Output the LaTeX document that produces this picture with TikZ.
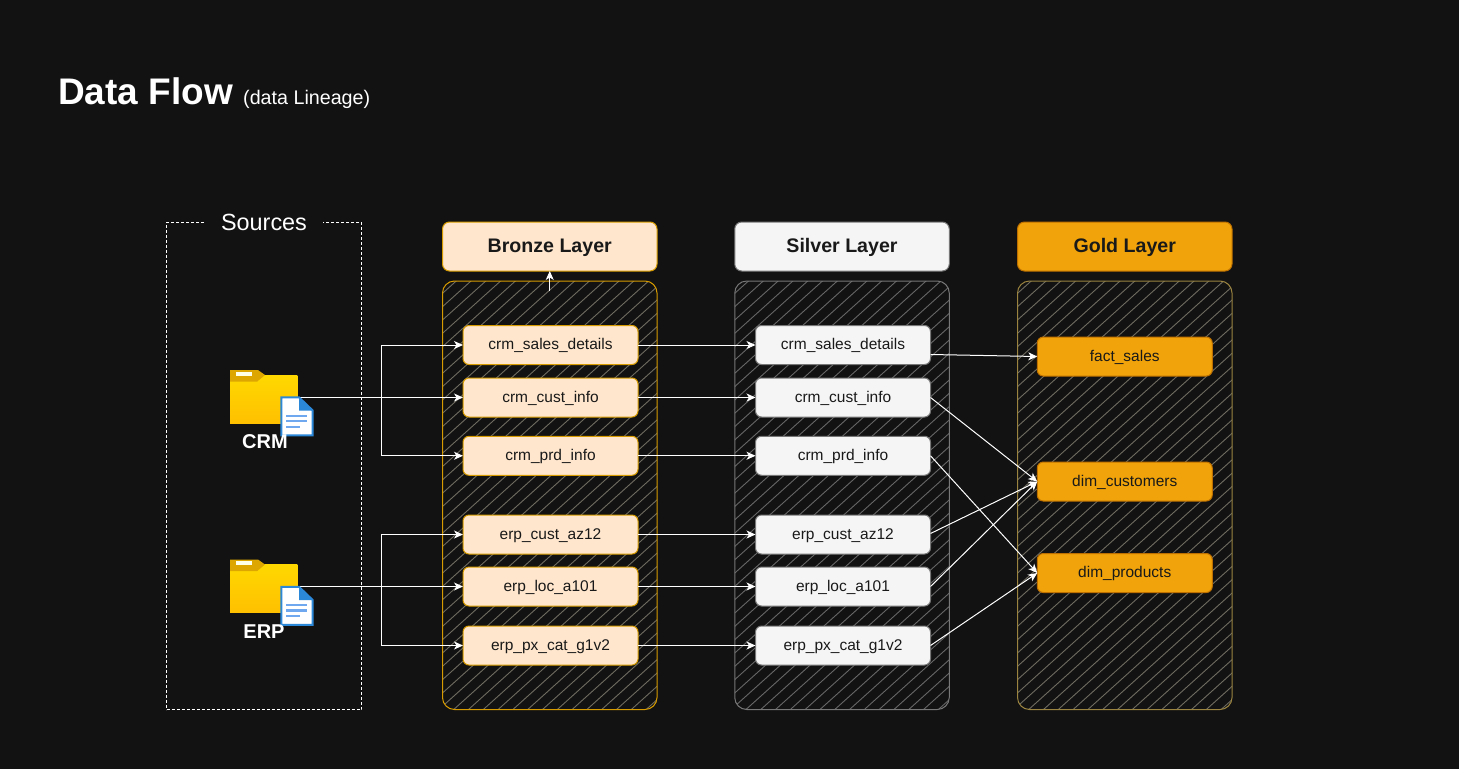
\documentclass[tikz,border=0pt]{standalone}
\usepackage{fontspec}
\setmainfont{Liberation Sans}
\usetikzlibrary{arrows.meta,calc}

\definecolor{pagebg}{HTML}{121212}
\definecolor{bronzefill}{HTML}{FFE6CC}
\definecolor{bronzeline}{HTML}{D79B00}
\definecolor{silverfill}{HTML}{F5F5F5}
\definecolor{silverline}{HTML}{777777}
\definecolor{goldfill}{HTML}{F0A30A}
\definecolor{goldline}{HTML}{BD7000}
\definecolor{goldpanel}{HTML}{9A8440}
\definecolor{hatchgrey}{HTML}{6E6B60}
\definecolor{hatchsilver}{HTML}{666666}
\definecolor{docblue}{HTML}{2B87D8}
\definecolor{docline}{HTML}{6FA8EE}
\definecolor{foldertop}{HTML}{FFD800}
\definecolor{folderlow}{HTML}{FFC000}
\definecolor{foldertab}{HTML}{DDA600}

\tikzset{
    layerhead/.style={draw=#1, line width=1pt, rounded corners=7pt, minimum width=214.5pt,
        minimum height=49pt, inner sep=0pt, outer sep=0pt, text=black!90, text height=16pt, text depth=4pt,
        font=\fontsize{19.6}{22}\selectfont\bfseries},
    tablebox/.style={draw=#1, line width=1pt, rounded corners=6pt, minimum width=175pt,
        minimum height=39pt, inner sep=0pt, outer sep=0pt, text=black!90, text height=13pt, text depth=4pt,
        font=\fontsize{15.5}{17}\selectfont},
    hatchpanel/.style 2 args={draw=#1, line width=1pt, rounded corners=12pt, minimum width=214.5pt,
        minimum height=428.5pt, inner sep=0pt, outer sep=0pt,
        path picture={
            \foreach \i in {-492,-477.2,...,230}
                \draw[#2, line width=0.9pt] ([xshift=\i pt]path picture bounding box.south west) -- ++(500,-450);
        }},
    flow/.style={draw=white, line width=1pt, -{Stealth[length=9pt,width=8pt,inset=2.5pt]}},
    srcfolder/.pic={
        \fill[top color=foldertop, bottom color=folderlow] (0,5) -- (67.3,5) -- (67.3,53.3) -- (0,53.3) -- cycle;
        \fill[foldertab] (0,0) -- (28,0) -- (35,5) -- (27,11.7) -- (0,11.7) -- cycle;
        \fill[white!90!yellow] (6,1.7) rectangle (21.7,5.7);
        \node[minimum width=67.3pt, minimum height=53.3pt, inner sep=0pt, outer sep=0pt, anchor=north west] (-box) at (0,0) {};
    },
    srcdoc/.pic={
        \fill[white] (51.3,27.3) -- (69,27.3) -- (82.7,40.5) -- (82.7,65.3) -- (51.3,65.3) -- cycle;
        \fill[docblue] (69,27.3) -- (82.7,40.5) -- (69,40.5) -- cycle;
        \draw[docblue, line width=2pt] (51.3,27.3) -- (69,27.3) -- (82.7,40.5) -- (82.7,65.3) -- (51.3,65.3) -- cycle;
        \draw[docline, line width=2.4pt] (56,45.7) -- (77.3,45.7) (56,51) -- (77.3,51) (56,56.7) -- (69.7,56.7);
    },
}

\begin{document}
\begin{tikzpicture}[x=1pt, y=-1pt]
    \useasboundingbox[fill=pagebg] (0,0) rectangle (1459,769);

    % Title
    \node[anchor=base west, inner sep=0pt, text=white, font=\fontsize{37}{40}\selectfont\bfseries] (title) at (58,104) {Data Flow};
    \node[anchor=base west, inner sep=0pt, text=white, font=\fontsize{19.7}{24}\selectfont] (subtitle) at (243,104.5) {(data Lineage)};

    % Sources frame
    \node[draw=white, dash pattern=on 3pt off 2pt, line width=1pt, minimum width=195pt, minimum height=487.5pt, inner sep=0pt, outer sep=0pt] (sources) at (264,465.75) {};
    \node[fill=pagebg, text=white, minimum width=118pt, inner sep=2pt, font=\fontsize{23.4}{26}\selectfont] (sourcestitle) at (264,222) {Sources};

    % Layer panels
    \node[hatchpanel={bronzeline}{hatchgrey}] (bronzepanel) at (549.75,495.25) {};
    \node[hatchpanel={silverline}{hatchsilver}] (silverpanel) at (842,495.25) {};
    \node[hatchpanel={goldpanel}{hatchgrey}] (goldpanel) at (1124.75,495.25) {};

    % Layer headers
    \node[layerhead=bronzeline, fill=bronzefill] (bronzehead) at (549.75,246.5) {Bronze Layer};
    \node[layerhead=silverline, fill=silverfill] (silverhead) at (842,246.5) {Silver Layer};
    \node[layerhead=goldline, fill=goldfill] (goldhead) at (1124.75,246.5) {Gold Layer};

    % Source folders
    \pic (crm) at (230,370) {srcfolder};
    \pic (erp) at (230,559.5) {srcfolder};

    % Bronze tables
    \node[tablebox=bronzeline, fill=bronzefill] (B1) at (550.5,345) {crm\_sales\_details};
    \node[tablebox=bronzeline, fill=bronzefill] (B2) at (550.5,397.5) {crm\_cust\_info};
    \node[tablebox=bronzeline, fill=bronzefill] (B3) at (550.5,455.75) {crm\_prd\_info};
    \node[tablebox=bronzeline, fill=bronzefill] (B4) at (550.5,534.5) {erp\_cust\_az12};
    \node[tablebox=bronzeline, fill=bronzefill] (B5) at (550.5,586.5) {erp\_loc\_a101};
    \node[tablebox=bronzeline, fill=bronzefill] (B6) at (550.5,645.5) {erp\_px\_cat\_g1v2};

    % Silver tables
    \node[tablebox=silverline, fill=silverfill] (S1) at (843,345) {crm\_sales\_details};
    \node[tablebox=silverline, fill=silverfill] (S2) at (843,397.5) {crm\_cust\_info};
    \node[tablebox=silverline, fill=silverfill] (S3) at (843,455.75) {crm\_prd\_info};
    \node[tablebox=silverline, fill=silverfill] (S4) at (843,534.5) {erp\_cust\_az12};
    \node[tablebox=silverline, fill=silverfill] (S5) at (843,586.5) {erp\_loc\_a101};
    \node[tablebox=silverline, fill=silverfill] (S6) at (843,645.5) {erp\_px\_cat\_g1v2};

    % Gold tables
    \node[tablebox=goldline, fill=goldfill] (G1) at (1124.75,356.5) {fact\_sales};
    \node[tablebox=goldline, fill=goldfill] (G2) at (1124.75,481.5) {dim\_customers};
    \node[tablebox=goldline, fill=goldfill] (G3) at (1124.75,573) {dim\_products};

    % Source connectors
    \draw[flow] (crm-box.east) |- (B2.west);
    \draw[flow] (B2.west -| 381,0) |- (B1.west);
    \draw[flow] (B2.west -| 381,0) |- (B3.west);
    \draw[flow] (erp-box.east) |- (B5.west);
    \draw[flow] (B5.west -| 381,0) |- (B4.west);
    \draw[flow] (B5.west -| 381,0) |- (B6.west);
    \draw[flow] ([yshift=-10pt]bronzepanel.north) -- (bronzehead.south);

    % Bronze to silver
    \draw[flow] (B1) -- (S1);
    \draw[flow] (B2) -- (S2);
    \draw[flow] (B3) -- (S3);
    \draw[flow] (B4) -- (S4);
    \draw[flow] (B5) -- (S5);
    \draw[flow] (B6) -- (S6);

    % Silver to gold
    \draw[flow] ([yshift=-9.5pt]S1.east) -- (G1.west);
    \draw[flow] (S2.east) -- (G2.west);
    \draw[flow] (S3.east) -- (G3.west);
    \draw[flow] ([yshift=1pt]S4.east) -- (G2.west);
    \draw[flow] (S5.east) -- (G2.west);
    \draw[flow] (S6.east) -- (G3.west);

    % Document sheets and labels
    \pic at (230,370) {srcdoc};
    \pic at (230,559.5) {srcdoc};
    \node[text=white, inner sep=0pt, font=\fontsize{20}{24}\selectfont\bfseries] (crmlabel) at (265,442) {CRM};
    \node[text=white, inner sep=0pt, font=\fontsize{20}{24}\selectfont\bfseries] (erplabel) at (264,632) {ERP};
\end{tikzpicture}
\end{document}
